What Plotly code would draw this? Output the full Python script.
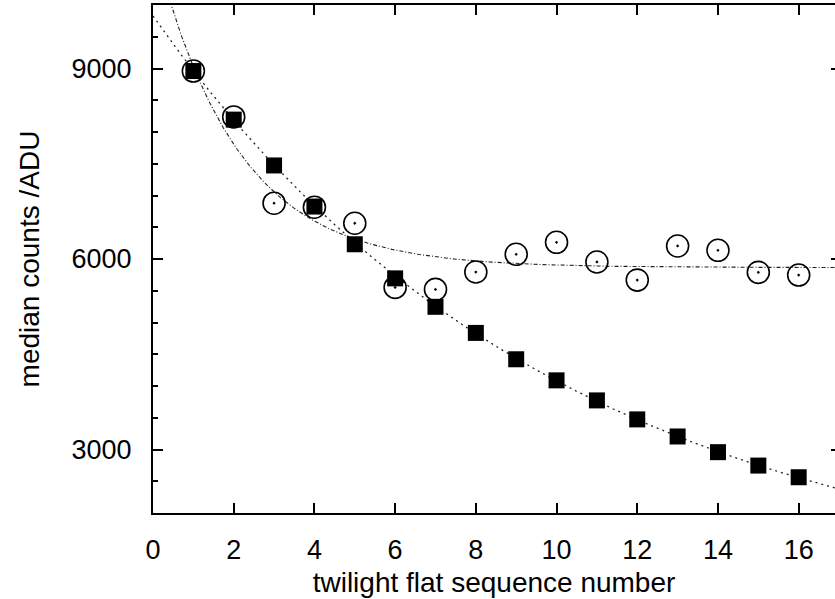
import numpy as np
import plotly.graph_objects as go

# ---- data ----
seq = [1, 2, 3, 4, 5, 6, 7, 8, 9, 10, 11, 12, 13, 14, 15, 16]
squares = [8960, 8195, 7473, 6826, 6232, 5695, 5247, 4836, 4421, 4089,
           3773, 3474, 3205, 2958, 2747, 2563]
circles = [8960, 8237, 6879, 6816, 6563, 5553, 5521, 5795, 6074, 6263,
           5953, 5668, 6205, 6137, 5790, 5747]

# fitted exponential models  c + a*exp(-x/t)
fit_sq = dict(c=667.0, a=9160.0, t=10.13)
fit_ci = dict(c=5865.0, a=5150.0, t=2.05)

x_ticks = [0, 2, 4, 6, 8, 10, 12, 14, 16]
y_ticks = [3000, 6000, 9000]
x_range = [0, 16.9]
y_range = [2000, 10000]

xs = np.linspace(0, 17, 400)
def model(p):
    return p["c"] + p["a"] * np.exp(-xs / p["t"])

FONT = "Liberation Sans, Arial, Helvetica, sans-serif"

fig = go.Figure()
fig.add_trace(go.Scatter(x=xs, y=model(fit_ci), mode="lines",
                         line=dict(color="#222", width=1.1, dash="4px,2px,1px,2px"),
                         hoverinfo="skip", showlegend=False))
fig.add_trace(go.Scatter(x=xs, y=model(fit_sq), mode="lines",
                         line=dict(color="#222", width=1.3, dash="2px,4px"),
                         hoverinfo="skip", showlegend=False))
fig.add_trace(go.Scatter(x=seq, y=circles, mode="markers",
                         marker=dict(symbol="circle-open-dot", size=22, color="black",
                                     line=dict(width=1.6, color="black")),
                         showlegend=False))
fig.add_trace(go.Scatter(x=seq, y=squares, mode="markers",
                         marker=dict(symbol="square", size=16, color="black",
                                     line=dict(width=0)),
                         showlegend=False))
# invisible trace to carry the right-hand tick axis
fig.add_trace(go.Scatter(x=[None], y=[None], yaxis="y2", showlegend=False,
                         hoverinfo="skip"))

fig.update_layout(
    width=835, height=599,
    margin=dict(l=153, r=0, t=5, b=86, autoexpand=False),
    paper_bgcolor="white", plot_bgcolor="white",
    font=dict(family=FONT, color="black"),
    xaxis=dict(range=x_range, tickvals=x_ticks, ticks="inside", ticklen=10,
               tickwidth=1.5, tickcolor="black", showline=True, linewidth=2,
               linecolor="black", mirror="ticks", showgrid=False, zeroline=False,
               tickfont=dict(size=27, family=FONT), ticklabelstandoff=12,
               title=dict(text="twilight flat sequence number",
                          font=dict(size=28, family=FONT), standoff=8)),
    yaxis=dict(range=y_range, tickvals=y_ticks, ticks="inside", ticklen=10,
               tickwidth=1.5, tickcolor="black", showline=True, linewidth=2,
               linecolor="black", mirror=False, showgrid=False, zeroline=False,
               tickfont=dict(size=27, family=FONT), ticklabelstandoff=14,
               minor=dict(dtick=500, tick0=0, ticks="inside", ticklen=5,
                          tickwidth=1.5, tickcolor="black", showgrid=False),
               title=dict(text="median counts /ADU",
                          font=dict(size=28, family=FONT), standoff=24)),
    yaxis2=dict(range=y_range, tickvals=y_ticks, overlaying="y", side="right",
                anchor="x", ticks="inside", ticklen=4, tickwidth=1.5,
                tickcolor="black", showline=False, showgrid=False,
                zeroline=False, showticklabels=False),
)

fig.write_html("out.html",
               config={"displayModeBar": False},
               post_script="document.body.style.margin='0px';"
                           "document.body.style.overflow='hidden';")
